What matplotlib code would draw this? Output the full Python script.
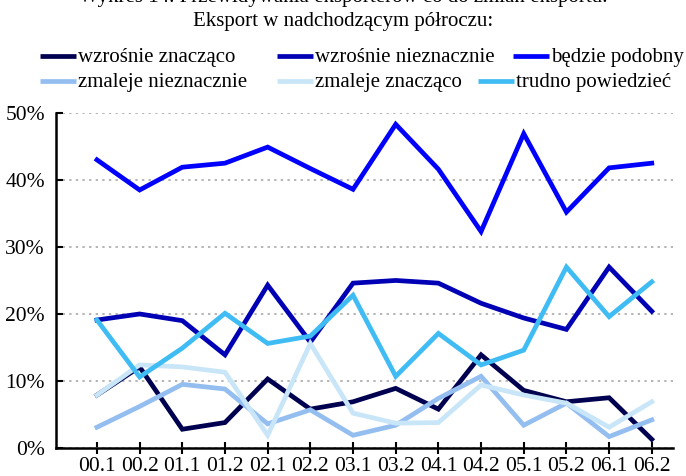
import matplotlib
matplotlib.use("Agg")
import matplotlib.pyplot as plt
from matplotlib.lines import Line2D

plt.rcParams['font.family'] = ['Liberation Serif', 'DejaVu Serif']

periods = ['00.1', '00.2', '01.1', '01.2', '02.1', '02.2', '03.1', '03.2',
           '04.1', '04.2', '05.1', '05.2', '06.1', '06.2']

wzrosnie_znaczaco = [7.9, 12.1, 2.8, 3.8, 10.3, 5.8, 6.9, 8.9, 5.8, 13.9, 8.6, 6.9, 7.5, 1.3]
wzrosnie_nieznacznie = [19.1, 20.0, 19.0, 13.9, 24.3, 15.8, 24.6, 25.0, 24.6, 21.6, 19.4, 17.7, 27.0, 20.4]
bedzie_podobny = [43.0, 38.5, 41.9, 42.5, 44.9, 41.7, 38.6, 48.3, 41.6, 32.3, 46.9, 35.2, 41.8, 42.5]
zmaleje_nieznacznie = [3.1, 6.2, 9.5, 8.8, 3.6, 5.7, 1.9, 3.4, 7.4, 10.7, 3.4, 6.7, 1.7, 4.2]
zmaleje_znaczaco = [7.9, 12.4, 12.1, 11.3, 1.9, 15.6, 5.2, 3.7, 3.8, 9.4, 7.9, 6.7, 3.1, 6.9]
trudno_powiedziec = [19.1, 10.6, 14.9, 20.1, 15.6, 16.7, 22.8, 10.7, 17.1, 12.4, 14.6, 27.0, 19.6, 24.8]

series = [
    ('wzrośnie znacząco', wzrosnie_znaczaco, '#000050'),
    ('wzrośnie nieznacznie', wzrosnie_nieznacznie, '#0000b4'),
    ('będzie podobny', bedzie_podobny, '#0000ff'),
    ('zmaleje nieznacznie', zmaleje_nieznacznie, '#94bef0'),
    ('zmaleje znacząco', zmaleje_znaczaco, '#c8e6f8'),
    ('trudno powiedzieć', trudno_powiedziec, '#40bcf4'),
]

W, H = 686, 476
fig = plt.figure(figsize=(W / 100, H / 100), dpi=100)
ax = fig.add_axes([0.0816, 0.0588, 0.899, 0.704])

x = range(len(periods))
for name, vals, col in series:
    ax.plot(x, vals, color=col, lw=3.4, label=name, solid_joinstyle='miter')

ax.set_xlim(-0.96, 13.49)
ax.set_ylim(0, 50)
ax.set_yticks([0, 10, 20, 30, 40, 50])
ax.set_yticklabels(['0%', '10%', '20%', '30%', '40%', '50%'])
ax.set_xticks(list(x))
ax.set_xticklabels(periods)
ax.yaxis.grid(True, linestyle=(0, (1.2, 2.2)), color='#b4b4b4', lw=1.4)
ax.set_axisbelow(True)

for s in ['top', 'right']:
    ax.spines[s].set_visible(False)
for s in ['left', 'bottom']:
    ax.spines[s].set_linewidth(1.8)
ax.tick_params(axis='x', direction='inout', length=9, width=1.5, labelsize=15.5, pad=2)
ax.tick_params(axis='y', direction='in', length=5, width=1.5, labelsize=15.5, pad=8)

# legend laid out row by row, like the original (handle x start, row y) in pixels
legend_pos = [(40, 56), (277, 56), (513, 56), (40, 81), (277, 81), (478, 81)]
for (name, vals, col), (hx, hy) in zip(series, legend_pos):
    fy = 1 - hy / H
    fig.add_artist(Line2D([hx / W, (hx + 36) / W], [fy, fy], color=col, lw=3.4,
                          solid_capstyle='butt', transform=fig.transFigure))
    fig.text((hx + 38) / W, fy - 0.004, name, ha='left', va='center', fontsize=15)

fig.text(0.5, 1.005, 'Wykres 14. Przewidywania eksporterów co do zmian eksportu.',
         ha='center', va='center', fontsize=15)
fig.text(0.5, 0.955, 'Eksport w nadchodzącym półroczu:', ha='center', va='center', fontsize=15)

fig.savefig('out.png', dpi=100)
